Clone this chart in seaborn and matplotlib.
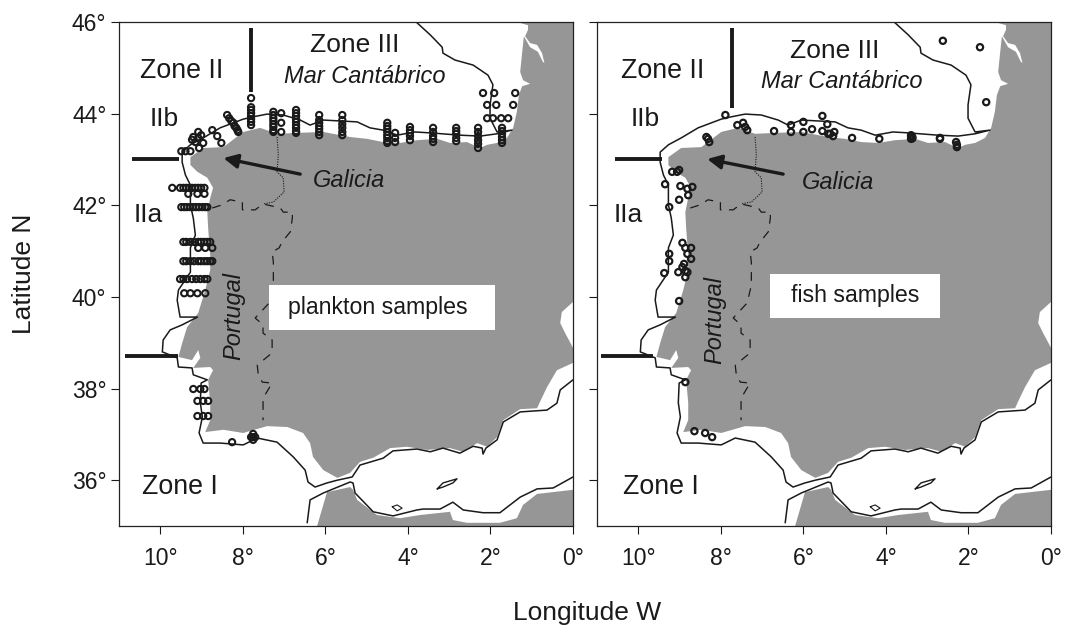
import numpy as np
import matplotlib
matplotlib.use("Agg")
import matplotlib.pyplot as plt
from matplotlib.patches import Rectangle
import seaborn as sns

sns.set_theme(style="ticks")
plt.rcParams["font.family"] = ["Liberation Sans", "DejaVu Sans"]

## Map outlines (lon, lat)
iberia_lon = [-1.36, -1.09, -1.09, -1.16, -1.04, -0.87, -0.75, -0.68, -0.56, -0.73, -0.85, -1.04, -1.19, -1.23, -1.28,
              -1.21, -1.04, -1.23, -1.31, -1.36, -1.45, -1.60, -1.84, -2.08, -2.25, -2.57, -2.98, -3.29, -3.78, -4.19,
              -4.60, -4.99, -5.40, -6.05, -6.68, -7.17, -7.58, -7.99, -8.31, -8.47, -8.96, -9.27, -9.27, -9.10, -8.86,
              -8.72, -8.79, -8.86, -8.84, -8.79, -8.79, -8.91, -9.08, -9.35, -9.47, -9.56, -9.23, -9.08, -9.03, -9.20,
              -8.79, -8.72, -8.84, -8.79, -8.79, -8.91, -8.47, -7.99, -7.41, -6.92, -6.54, -6.37, -6.30, -6.05, -5.71,
              -5.40, -5.16, -4.84, -4.43, -4.02, -3.54, -2.98, -2.66, -2.32, -2.08, -1.84, -1.69, -1.28, -0.87, -0.80,
              -0.63, -0.39, 0.0, 0.0, -0.19, -0.31, -0.27, 0.0, 0.0]
iberia_lat = [46.00, 45.93, 45.83, 45.69, 45.54, 45.50, 45.32, 45.06, 45.02, 45.13, 45.35, 45.45, 45.69, 45.35, 44.91,
              44.73, 44.65, 44.60, 44.41, 44.04, 43.69, 43.47, 43.36, 43.32, 43.25, 43.38, 43.36, 43.45, 43.42, 43.36,
              43.38, 43.45, 43.49, 43.60, 43.58, 43.56, 43.69, 43.60, 43.38, 43.27, 43.25, 43.05, 42.88, 42.73, 42.60,
              42.38, 42.16, 41.85, 41.50, 40.91, 40.59, 40.15, 39.65, 39.34, 38.99, 38.69, 38.62, 38.84, 38.67, 38.45,
              38.47, 38.40, 38.19, 37.69, 37.31, 37.05, 37.10, 37.03, 37.18, 37.16, 37.03, 36.81, 36.51, 36.22, 36.05,
              36.16, 36.40, 36.49, 36.70, 36.73, 36.66, 36.70, 36.62, 36.81, 36.73, 36.94, 37.31, 37.55, 37.57, 37.71,
              38.03, 38.40, 38.56, 38.89, 39.21, 39.43, 39.67, 39.89, 46.00]

africa_lon = [-6.20, -5.96, -5.40, -5.33, -5.23, -4.75, -4.19, -3.70, -2.98, -2.91, -2.57, -1.77, -1.36, -1.21, -0.87,
              -0.48, 0.0, 0.0]
africa_lat = [35.00, 35.74, 35.85, 35.79, 35.57, 35.24, 35.17, 35.24, 35.31, 35.13, 35.07, 35.07, 35.17, 35.46, 35.70,
              35.74, 35.79, 35.00]

contour_lon = [-3.80, -3.46, -3.17, -3.15, -2.86, -2.42, -2.06, -1.94, -2.01, -2.01, -1.84, -1.48, -1.84, -2.25, -2.74,
               -3.46, -3.83, -4.26, -4.60, -4.92, -5.23, -5.64, -6.05, -6.37, -6.61, -7.02, -7.41, -7.75, -7.99, -8.55,
               -8.96, -9.27, -9.47, -9.47, -9.39, -9.27, -9.27, -9.20, -9.15, -9.27, -9.27, -9.56, -9.59, -9.52, -9.10,
               -9.47, -9.76, -9.93, -9.95, -9.59, -9.56, -9.23, -9.20, -8.86, -9.01, -9.03, -8.98, -9.06, -8.96, -8.55,
               -7.99, -7.65, -7.17, -6.78, -6.49, -6.42, -6.25, -5.96, -5.71, -5.35, -5.16, -4.60, -4.36, -3.78, -3.46,
               -3.15, -2.74, -2.42, -2.20, -2.18, -2.11, -1.84, -1.69, -1.28, -0.63, -0.39, -0.31, 0.0]
contour_lat = [46.00, 45.72, 45.45, 45.32, 45.17, 45.06, 44.84, 44.63, 44.19, 43.90, 43.60, 43.64, 43.56, 43.51, 43.53,
               43.58, 43.60, 43.53, 43.64, 43.69, 43.82, 43.84, 43.86, 43.75, 43.86, 43.97, 43.99, 43.93, 43.88, 43.69,
               43.47, 43.32, 43.16, 42.94, 42.66, 42.44, 42.01, 41.72, 41.35, 41.07, 40.54, 40.15, 39.93, 39.56, 39.56,
               39.39, 39.28, 39.06, 38.80, 38.67, 38.47, 38.45, 38.30, 38.19, 38.12, 37.69, 37.38, 37.03, 36.81, 36.81,
               36.77, 36.92, 36.83, 36.51, 36.22, 35.96, 35.85, 35.94, 36.00, 36.07, 36.33, 36.48, 36.64, 36.68, 36.62,
               36.70, 36.59, 36.74, 36.70, 36.57, 36.70, 36.88, 37.27, 37.49, 37.53, 37.68, 37.97, 38.19]

south_lon = [-6.44, -6.37, -6.05, -5.40, -5.33, -5.28, -4.84, -4.36, -3.78, -3.63, -3.22, -2.91, -2.66, -2.18, -1.77,
             -1.28, -0.87, -0.48, 0.0]
south_lat = [35.07, 35.57, 35.72, 35.96, 35.94, 35.72, 35.31, 35.22, 35.35, 35.37, 35.37, 35.52, 35.35, 35.29, 35.29,
             35.63, 35.81, 35.83, 36.07]

alboran_lon = [-3.29, -3.15, -2.81, -2.91, -3.15, -3.29]
alboran_lat = [35.81, 35.94, 36.03, 35.94, 35.85, 35.81]
islet_lon = [-4.38, -4.26, -4.14, -4.26, -4.38]
islet_lat = [35.42, 35.46, 35.39, 35.33, 35.42]

border_lon = [-8.74, -8.50, -8.31, -8.01, -8.01, -7.70, -7.51, -7.09, -7.02, -6.80, -6.80, -6.85, -7.05, -7.12, -7.29,
              -7.26, -7.26, -7.36, -7.70, -7.51, -7.51, -7.29, -7.29, -7.65, -7.63, -7.53, -7.29, -7.51, -7.51]
border_lat = [41.94, 42.01, 42.12, 42.07, 41.90, 41.90, 42.03, 41.94, 41.85, 41.85, 41.72, 41.42, 41.20, 41.07, 40.98,
              40.76, 40.26, 39.87, 39.54, 39.39, 39.21, 39.06, 38.78, 38.51, 38.34, 38.14, 38.12, 37.79, 37.31]
galicia_lon = [-7.17, -7.14, -7.17, -7.02, -7.00, -7.26, -7.51]
galicia_lat = [43.49, 43.10, 42.73, 42.60, 42.29, 42.07, 42.03]

## Sampling stations
plankton_lon = [-7.80] * 8 + [-8.38, -8.33, -8.28, -8.23, -8.20, -8.16, -8.13, -8.11] \
    + [-9.08, -9.20, -9.23, -9.08, -8.96, -9.06, -9.15, -9.01, -8.74, -8.62, -8.52, -9.49, -9.39, -9.27] \
    + [-9.71, -9.52, -9.44, -9.37, -9.30, -9.23, -9.15, -9.08, -9.01, -8.93, -9.32, -9.10, -8.93] \
    + [-9.49, -9.42, -9.35, -9.27, -9.20, -9.13, -9.06, -8.98, -8.91, -8.86] \
    + [-9.44, -9.37, -9.27, -9.18, -9.08, -9.01, -8.93, -8.86, -8.79, -9.08, -8.91, -8.74] \
    + [-9.44, -9.37, -9.27, -9.18, -9.08, -9.01, -8.93, -8.86, -8.79, -8.74] \
    + [-9.52, -9.44, -9.35, -9.23, -9.13, -9.03, -8.93, -8.86, -9.42, -9.27, -9.10, -8.91] \
    + [-9.20, -9.03, -8.93, -9.10, -8.96, -8.84, -9.10, -8.96, -8.84, -8.26] \
    + [-7.75, -7.75, -7.75, -7.70, -7.80] \
    + [-7.26] * 8 + [-7.07] * 3 + [-6.71] * 9 + [-6.15] * 7 + [-5.59] * 6 + [-4.50] * 8 + [-4.31] * 3 \
    + [-3.95] * 5 + [-3.39] * 5 + [-2.83] * 5 + [-2.30] * 6 + [-1.72] * 6 \
    + [-2.18, -1.91, -1.40, -2.08, -1.86, -1.45, -2.08, -1.94, -1.74, -1.57]
plankton_lat = [44.34, 44.14, 44.08, 44.01, 43.95, 43.88, 43.82, 43.75] \
    + [43.97, 43.90, 43.84, 43.80, 43.73, 43.69, 43.64, 43.60] \
    + [43.60, 43.49, 43.43, 43.47, 43.36, 43.25, 43.38, 43.53, 43.64, 43.51, 43.36, 43.18, 43.18, 43.18] \
    + [42.38] * 10 + [42.25] * 3 \
    + [41.96] * 10 \
    + [41.20] * 9 + [41.07] * 3 \
    + [40.78] * 10 \
    + [40.39] * 8 + [40.08] * 4 \
    + [37.99] * 3 + [37.73] * 3 + [37.40] * 3 + [36.83] \
    + [36.94, 37.01, 36.88, 36.94, 36.94] \
    + [44.04, 43.97, 43.90, 43.84, 43.77, 43.71, 43.64, 43.60] \
    + [44.01, 43.80, 43.60] \
    + [44.08, 44.01, 43.95, 43.88, 43.82, 43.75, 43.69, 43.62, 43.58] \
    + [43.97, 43.86, 43.80, 43.73, 43.67, 43.60, 43.53] \
    + [43.97, 43.86, 43.77, 43.69, 43.60, 43.53] \
    + [43.80, 43.73, 43.67, 43.60, 43.53, 43.47, 43.40, 43.36] \
    + [43.58, 43.47, 43.38] \
    + [43.71, 43.64, 43.58, 43.51, 43.42] \
    + [43.69, 43.60, 43.51, 43.45, 43.38] \
    + [43.69, 43.62, 43.56, 43.47, 43.40] \
    + [43.69, 43.60, 43.51, 43.42, 43.34, 43.25] \
    + [43.69, 43.62, 43.56, 43.49, 43.42, 43.36] \
    + [44.45] * 3 + [44.19] * 3 + [43.90] * 4

fish_lon = [-7.89, -7.60, -7.46, -7.41, -7.36, -6.71, -6.30, -6.30, -6.00, -6.00, -5.79, -5.54, -5.54, -5.42, -5.40,
            -5.35, -5.25, -5.28, -4.82, -4.16, -3.39, -3.39, -3.36, -3.36, -3.39, -2.69, -2.69, -2.30, -2.28, -2.28,
            -2.62, -1.72, -1.57, -8.35, -8.31, -8.28, -9.18, -9.06, -9.01, -9.35, -8.98, -8.69, -8.81, -8.79, -9.01,
            -9.25, -8.93, -8.72, -8.86, -8.81, -8.72, -9.25, -9.25, -8.89, -8.93, -9.03, -8.86, -9.37, -8.81, -8.86,
            -9.01, -8.86, -8.64, -8.38, -8.21]
fish_lat = [43.97, 43.75, 43.80, 43.71, 43.64, 43.62, 43.75, 43.60, 43.82, 43.60, 43.66, 43.95, 43.62, 43.77, 43.56,
            43.56, 43.60, 43.51, 43.47, 43.45, 43.53, 43.50, 43.49, 43.46, 43.45, 43.45, 43.47, 43.38, 43.32, 43.27,
            45.59, 45.45, 44.25, 43.49, 43.45, 43.38, 42.73, 42.73, 42.77, 42.46, 42.42, 42.40, 42.36, 42.22, 42.12,
            41.96, 41.18, 41.07, 41.07, 40.94, 40.83, 40.94, 40.78, 40.72, 40.65, 40.54, 40.57, 40.52, 40.54, 40.43,
            39.91, 38.14, 37.07, 37.03, 36.94]

x_ticks = [-10, -8, -6, -4, -2, 0]
x_labels = ["10°", "8°", "6°", "4°", "2°", "0°"]
y_ticks = [36, 38, 40, 42, 44, 46]
y_labels = ["36°", "38°", "40°", "42°", "44°", "46°"]

LAND = "#969696"
FS = 17.5


def draw_map(ax):
    ax.fill(iberia_lon, iberia_lat, color=LAND, lw=0, zorder=1)
    ax.fill(africa_lon, africa_lat, color=LAND, lw=0, zorder=1)
    ax.plot(contour_lon, contour_lat, color="k", lw=1.1, zorder=2)
    ax.plot(south_lon, south_lat, color="k", lw=1.1, zorder=2)
    ax.plot(alboran_lon, alboran_lat, color="k", lw=1.0, zorder=2)
    ax.plot(islet_lon, islet_lat, color="k", lw=0.8, zorder=2)
    ax.plot(border_lon, border_lat, color="k", lw=0.9, ls=(0, (7, 6)), zorder=2)
    ax.plot(galicia_lon, galicia_lat, color="k", lw=0.8, ls=(0, (1, 1.2)), zorder=2)
    ax.set_xlim(-11, 0)
    ax.set_ylim(35, 46)
    ax.set_xticks(x_ticks, x_labels)
    ax.set_yticks(y_ticks, y_labels)
    ax.tick_params(length=6, width=0.8, color="k", labelsize=16.5, labelcolor="k", pad=3)
    ax.tick_params(axis="x", pad=9)
    for s in ax.spines.values():
        s.set_visible(True)
        s.set_linewidth(0.9)
        s.set_color("#222222")


def label(ax, x, y, txt, **kw):
    ax.text(x, y, txt, ha="center", va="center", color="k", zorder=6, **kw)


fig, axes = plt.subplots(1, 2, figsize=(10.66, 6.34), dpi=100)
fig.subplots_adjust(left=119 / 1066, right=1051 / 1066, top=1 - 22 / 634, bottom=1 - 526 / 634, wspace=24 / 454)
ax1, ax2 = axes

for ax in axes:
    draw_map(ax)

## left panel: plankton
sns.scatterplot(x=plankton_lon, y=plankton_lat, ax=ax1, s=20, facecolor="none", edgecolor="k", linewidth=1.5, zorder=4)
ax1.plot([-7.79, -7.79], [45.87, 44.47], color="k", lw=2.8, solid_capstyle="butt", zorder=3)
ax1.plot([-10.68, -9.54], [43.02, 43.02], color="k", lw=2.8, solid_capstyle="butt", zorder=3)
ax1.plot([-10.85, -9.56], [38.72, 38.72], color="k", lw=2.8, solid_capstyle="butt", zorder=3)
ax1.annotate("", xy=(-8.47, 43.03), xytext=(-6.61, 42.68),
             arrowprops=dict(arrowstyle="-|>", color="k", lw=2.4, mutation_scale=21, shrinkA=0, shrinkB=0), zorder=5)
ax1.add_patch(Rectangle((-7.36, 39.28), 5.47, 0.98, fc="white", ec="none", zorder=3))
label(ax1, -9.47, 44.93, "Zone II", fontsize=19.3)
label(ax1, -5.28, 45.50, "Zone III", fontsize=19)
label(ax1, -5.04, 44.82, "Mar Cantábrico", fontsize=FS - 0.5, style="italic")
label(ax1, -9.90, 43.88, "IIb", fontsize=19)
label(ax1, -10.29, 41.79, "IIa", fontsize=19)
label(ax1, -5.42, 42.53, "Galicia", fontsize=FS - 0.5, style="italic")
label(ax1, -8.23, 39.58, "Portugal", fontsize=FS - 0.5, style="italic", rotation=90)
label(ax1, -4.72, 39.76, "plankton samples", fontsize=FS - 0.8)
label(ax1, -9.52, 35.85, "Zone I", fontsize=19.3)

## right panel: fish
sns.scatterplot(x=fish_lon, y=fish_lat, ax=ax2, s=20, facecolor="none", edgecolor="k", linewidth=1.6, zorder=4)
ax2.plot([-7.72, -7.72], [45.87, 44.12], color="k", lw=2.8, solid_capstyle="butt", zorder=3)
ax2.plot([-10.56, -9.42], [43.02, 43.02], color="k", lw=2.8, solid_capstyle="butt", zorder=3)
ax2.plot([-10.90, -9.64], [38.72, 38.72], color="k", lw=2.8, solid_capstyle="butt", zorder=3)
ax2.annotate("", xy=(-8.33, 43.01), xytext=(-6.49, 42.68),
             arrowprops=dict(arrowstyle="-|>", color="k", lw=2.4, mutation_scale=21, shrinkA=0, shrinkB=0), zorder=5)
ax2.add_patch(Rectangle((-6.80, 39.54), 4.11, 0.96, fc="white", ec="none", zorder=3))
label(ax2, -9.42, 44.93, "Zone II", fontsize=19.3)
label(ax2, -5.23, 45.37, "Zone III", fontsize=19)
label(ax2, -5.06, 44.71, "Mar Cantábrico", fontsize=FS - 0.5, style="italic")
label(ax2, -9.83, 43.88, "IIb", fontsize=19)
label(ax2, -10.24, 41.79, "IIa", fontsize=19)
label(ax2, -5.16, 42.49, "Galicia", fontsize=FS - 0.5, style="italic")
label(ax2, -8.14, 39.50, "Portugal", fontsize=FS - 0.5, style="italic", rotation=90)
label(ax2, -4.75, 40.02, "fish samples", fontsize=FS - 0.8)
label(ax2, -9.44, 35.85, "Zone I", fontsize=19.3)

ax2.tick_params(labelleft=False)

fig.text(24 / 1066, 1 - 274 / 634, "Latitude N", rotation=90, ha="center", va="center", fontsize=19, color="k")
fig.text(587 / 1066, 1 - 613 / 634, "Longitude W", ha="center", va="center", fontsize=19, color="k")

fig.savefig("out.png", dpi=100)
